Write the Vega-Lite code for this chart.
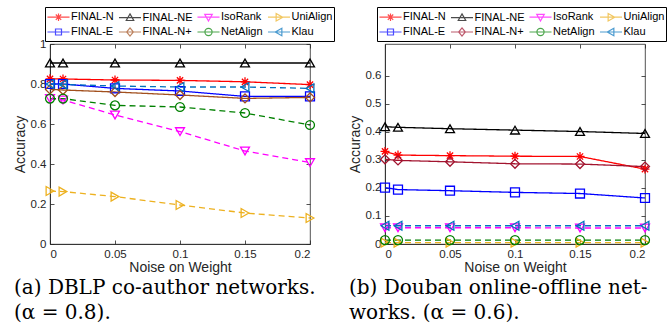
{
  "$schema": "https://vega.github.io/schema/vega-lite/v6.json",
  "background": "white",
  "padding": {"left": 12, "top": 6, "right": 3, "bottom": 5},
  "config": {
    "view": {"stroke": "#262626", "strokeWidth": 0.8},
    "axis": {
      "domainColor": "#262626", "domainWidth": 0.8, "tickColor": "#262626", "tickWidth": 0.8, "tickSize": -4,
      "labelFont": "Liberation Sans", "labelFontSize": 11.5, "labelColor": "#262626",
      "titleFont": "Liberation Sans", "titleFontSize": 14, "titleFontWeight": "normal", "titleColor": "#262626", "grid": false
    },
    "legend": {
      "orient": "none", "columns": 4, "labelFont": "Liberation Sans", "labelFontSize": 11, "labelColor": "black",
      "labelOffset": 4, "columnPadding": 1.5, "rowPadding": 0, "padding": 1.5, "symbolOffset": 3.5,
      "fillColor": "white", "strokeColor": "black", "symbolSize": 225, "symbolStrokeWidth": 1.2
    },
    "title": {"font": "DejaVu Serif", "fontSize": 20, "fontWeight": "normal", "color": "black"}
  },
  "datasets": {
    "a": [
      {"x": 0, "y": 0.826, "m": "FINAL-N"}, {"x": 0.01, "y": 0.825, "m": "FINAL-N"}, {"x": 0.05, "y": 0.82, "m": "FINAL-N"}, {"x": 0.1, "y": 0.818, "m": "FINAL-N"}, {"x": 0.15, "y": 0.811, "m": "FINAL-N"}, {"x": 0.2, "y": 0.797, "m": "FINAL-N"},
      {"x": 0, "y": 0.905, "m": "FINAL-NE"}, {"x": 0.01, "y": 0.905, "m": "FINAL-NE"}, {"x": 0.05, "y": 0.905, "m": "FINAL-NE"}, {"x": 0.1, "y": 0.905, "m": "FINAL-NE"}, {"x": 0.15, "y": 0.905, "m": "FINAL-NE"}, {"x": 0.2, "y": 0.905, "m": "FINAL-NE"},
      {"x": 0, "y": 0.727, "m": "IsoRank"}, {"x": 0.01, "y": 0.72, "m": "IsoRank"}, {"x": 0.05, "y": 0.645, "m": "IsoRank"}, {"x": 0.1, "y": 0.562, "m": "IsoRank"}, {"x": 0.15, "y": 0.465, "m": "IsoRank"}, {"x": 0.2, "y": 0.407, "m": "IsoRank"},
      {"x": 0, "y": 0.265, "m": "UniAlign"}, {"x": 0.01, "y": 0.262, "m": "UniAlign"}, {"x": 0.05, "y": 0.237, "m": "UniAlign"}, {"x": 0.1, "y": 0.195, "m": "UniAlign"}, {"x": 0.15, "y": 0.155, "m": "UniAlign"}, {"x": 0.2, "y": 0.13, "m": "UniAlign"},
      {"x": 0, "y": 0.8, "m": "FINAL-E"}, {"x": 0.01, "y": 0.8, "m": "FINAL-E"}, {"x": 0.05, "y": 0.778, "m": "FINAL-E"}, {"x": 0.1, "y": 0.765, "m": "FINAL-E"}, {"x": 0.15, "y": 0.738, "m": "FINAL-E"}, {"x": 0.2, "y": 0.738, "m": "FINAL-E"},
      {"x": 0, "y": 0.773, "m": "FINAL-N+"}, {"x": 0.01, "y": 0.77, "m": "FINAL-N+"}, {"x": 0.05, "y": 0.76, "m": "FINAL-N+"}, {"x": 0.1, "y": 0.745, "m": "FINAL-N+"}, {"x": 0.15, "y": 0.728, "m": "FINAL-N+"}, {"x": 0.2, "y": 0.733, "m": "FINAL-N+"},
      {"x": 0, "y": 0.727, "m": "NetAlign"}, {"x": 0.01, "y": 0.727, "m": "NetAlign"}, {"x": 0.05, "y": 0.693, "m": "NetAlign"}, {"x": 0.1, "y": 0.685, "m": "NetAlign"}, {"x": 0.15, "y": 0.655, "m": "NetAlign"}, {"x": 0.2, "y": 0.595, "m": "NetAlign"},
      {"x": 0, "y": 0.8, "m": "Klau"}, {"x": 0.01, "y": 0.798, "m": "Klau"}, {"x": 0.05, "y": 0.79, "m": "Klau"}, {"x": 0.1, "y": 0.785, "m": "Klau"}, {"x": 0.15, "y": 0.785, "m": "Klau"}, {"x": 0.2, "y": 0.778, "m": "Klau"}
    ],
    "b": [
      {"x": 0, "y": 0.33, "m": "FINAL-N"}, {"x": 0.01, "y": 0.317, "m": "FINAL-N"}, {"x": 0.05, "y": 0.315, "m": "FINAL-N"}, {"x": 0.1, "y": 0.313, "m": "FINAL-N"}, {"x": 0.15, "y": 0.312, "m": "FINAL-N"}, {"x": 0.2, "y": 0.267, "m": "FINAL-N"},
      {"x": 0, "y": 0.418, "m": "FINAL-NE"}, {"x": 0.01, "y": 0.416, "m": "FINAL-NE"}, {"x": 0.05, "y": 0.411, "m": "FINAL-NE"}, {"x": 0.1, "y": 0.406, "m": "FINAL-NE"}, {"x": 0.15, "y": 0.401, "m": "FINAL-NE"}, {"x": 0.2, "y": 0.394, "m": "FINAL-NE"},
      {"x": 0, "y": 0.058, "m": "IsoRank"}, {"x": 0.01, "y": 0.058, "m": "IsoRank"}, {"x": 0.05, "y": 0.058, "m": "IsoRank"}, {"x": 0.1, "y": 0.058, "m": "IsoRank"}, {"x": 0.15, "y": 0.057, "m": "IsoRank"}, {"x": 0.2, "y": 0.057, "m": "IsoRank"},
      {"x": 0, "y": 0.005, "m": "UniAlign"}, {"x": 0.01, "y": 0.005, "m": "UniAlign"}, {"x": 0.05, "y": 0.005, "m": "UniAlign"}, {"x": 0.1, "y": 0.005, "m": "UniAlign"}, {"x": 0.15, "y": 0.005, "m": "UniAlign"}, {"x": 0.2, "y": 0.005, "m": "UniAlign"},
      {"x": 0, "y": 0.201, "m": "FINAL-E"}, {"x": 0.01, "y": 0.194, "m": "FINAL-E"}, {"x": 0.05, "y": 0.19, "m": "FINAL-E"}, {"x": 0.1, "y": 0.184, "m": "FINAL-E"}, {"x": 0.15, "y": 0.18, "m": "FINAL-E"}, {"x": 0.2, "y": 0.164, "m": "FINAL-E"},
      {"x": 0, "y": 0.302, "m": "FINAL-N+"}, {"x": 0.01, "y": 0.298, "m": "FINAL-N+"}, {"x": 0.05, "y": 0.293, "m": "FINAL-N+"}, {"x": 0.1, "y": 0.286, "m": "FINAL-N+"}, {"x": 0.15, "y": 0.285, "m": "FINAL-N+"}, {"x": 0.2, "y": 0.276, "m": "FINAL-N+"},
      {"x": 0, "y": 0.014, "m": "NetAlign"}, {"x": 0.01, "y": 0.014, "m": "NetAlign"}, {"x": 0.05, "y": 0.014, "m": "NetAlign"}, {"x": 0.1, "y": 0.014, "m": "NetAlign"}, {"x": 0.15, "y": 0.014, "m": "NetAlign"}, {"x": 0.2, "y": 0.014, "m": "NetAlign"},
      {"x": 0, "y": 0.065, "m": "Klau"}, {"x": 0.01, "y": 0.065, "m": "Klau"}, {"x": 0.05, "y": 0.065, "m": "Klau"}, {"x": 0.1, "y": 0.065, "m": "Klau"}, {"x": 0.15, "y": 0.065, "m": "Klau"}, {"x": 0.2, "y": 0.065, "m": "Klau"}
    ]
  },
  "bounds": "flush",
  "spacing": 75,
  "hconcat": [
    {
      "width": 260, "height": 200,
      "data": {"name": "a"},
      "title": {"text": ["(a) DBLP co-author networks.", "(α = 0.8)."], "orient": "bottom", "anchor": "start", "frame": "group", "dx": -36, "offset": 3, "lineHeight": 25, "baseline": "top"},
      "layer": [
        {
          "mark": {"type": "line", "strokeWidth": 1.3},
          "encoding": {
            "x": {"field": "x", "type": "quantitative", "scale": {"domain": [0, 0.2], "nice": false}, "axis": {"values": [0, 0.05, 0.1, 0.15, 0.2], "format": "~g", "title": "Noise on Weight", "labelPadding": 8, "titlePadding": 1}},
            "y": {"field": "y", "type": "quantitative", "scale": {"domain": [0, 1], "nice": false}, "axis": {"values": [0, 0.2, 0.4, 0.6, 0.8, 1], "format": "~g", "title": "Accuracy", "labelPadding": 8, "titlePadding": 3}},
            "color": {"field": "m", "type": "nominal", "legend": null, "scale": {"domain": ["FINAL-N", "FINAL-E", "FINAL-NE", "FINAL-N+", "IsoRank", "NetAlign", "UniAlign", "Klau"], "range": ["#FF0000", "#0000FF", "#000000", "#A2501E", "#FF00FF", "#008000", "#EDB120", "#0072BD"]}},
            "strokeDash": {"field": "m", "type": "nominal", "legend": null, "scale": {"domain": ["FINAL-N", "FINAL-E", "FINAL-NE", "FINAL-N+", "IsoRank", "NetAlign", "UniAlign", "Klau"], "range": [[1, 0], [1, 0], [1, 0], [1, 0], [6, 4], [6, 4], [6, 4], [6, 4]]}}
          }
        },
        {
          "mark": {"type": "point", "filled": false, "size": 80, "strokeWidth": 1.3, "opacity": 1},
          "encoding": {
            "x": {"field": "x", "type": "quantitative", "axis": {"orient": "top", "values": [0, 0.05, 0.1, 0.15, 0.2], "labels": false, "title": null, "domain": false}},
            "y": {"field": "y", "type": "quantitative", "axis": {"orient": "right", "values": [0, 0.2, 0.4, 0.6, 0.8, 1], "labels": false, "title": null, "domain": false}},
            "color": {"field": "m", "type": "nominal", "legend": null, "scale": {"domain": ["FINAL-N", "FINAL-E", "FINAL-NE", "FINAL-N+", "IsoRank", "NetAlign", "UniAlign", "Klau"], "range": ["#FF0000", "#0000FF", "#000000", "#A2501E", "#FF00FF", "#008000", "#EDB120", "#0072BD"]}},
            "shape": {"field": "m", "type": "nominal", "legend": null, "scale": {"domain": ["FINAL-N", "FINAL-E", "FINAL-NE", "FINAL-N+", "IsoRank", "NetAlign", "UniAlign", "Klau"], "range": ["M-1,0H1M0,-1V1M-0.7,-0.7L0.7,0.7M-0.7,0.7L0.7,-0.7", "square", "triangle-up", "diamond", "triangle-down", "circle", "triangle-right", "triangle-left"]}}
          }
        },
        {
          "transform": [{"filter": "false"}],
          "mark": {"type": "point", "filled": false, "strokeWidth": 1.2},
          "encoding": {
            "x": {"field": "x", "type": "quantitative", "axis": null},
            "y": {"field": "y", "type": "quantitative", "axis": null},
            "color": {"field": "m", "type": "nominal", "legend": {"title": null, "legendX": -5, "legendY": -37}, "scale": {"domain": ["FINAL-N", "FINAL-E", "FINAL-NE", "FINAL-N+", "IsoRank", "NetAlign", "UniAlign", "Klau"], "range": ["#FF0000", "#0000FF", "#000000", "#A2501E", "#FF00FF", "#008000", "#EDB120", "#0072BD"]}},
            "shape": {"field": "m", "type": "nominal", "legend": {"title": null, "legendX": -5, "legendY": -37}, "scale": {"domain": ["FINAL-N", "FINAL-E", "FINAL-NE", "FINAL-N+", "IsoRank", "NetAlign", "UniAlign", "Klau"], "range": [
              "M-1.47,0H1.47M0,-0.5V0.5M-0.5,0H0.5M-0.36,-0.36L0.36,0.36M-0.36,0.36L0.36,-0.36",
              "M-1.47,0H1.47M-0.4,-0.4H0.4V0.4H-0.4Z",
              "M-1.47,0H1.47M0,-0.5L0.5,0.38L-0.5,0.38Z",
              "M-1.47,0H1.47M0,-0.55L0.45,0L0,0.55L-0.45,0Z",
              "M-1.47,0H1.47M0,0.5L0.5,-0.38L-0.5,-0.38Z",
              "M-1.47,0H1.47M0.48,0A0.48,0.48 0 1,1 -0.48,0A0.48,0.48 0 1,1 0.48,0",
              "M-1.47,0H1.47M0.5,0L-0.38,-0.5L-0.38,0.5Z",
              "M-1.47,0H1.47M-0.5,0L0.38,-0.5L0.38,0.5Z"
            ]}}
          }
        }
      ],
      "resolve": {"scale": {"shape": "independent", "color": "independent"}, "axis": {"x": "independent", "y": "independent"}}
    },
    {
      "width": 260, "height": 200,
      "data": {"name": "b"},
      "title": {"text": ["(b) Douban online-offline net-", "works. (α = 0.6)."], "orient": "bottom", "anchor": "start", "frame": "group", "dx": -36, "offset": 3, "lineHeight": 25, "baseline": "top"},
      "layer": [
        {
          "mark": {"type": "line", "strokeWidth": 1.3},
          "encoding": {
            "x": {"field": "x", "type": "quantitative", "scale": {"domain": [0, 0.2], "nice": false}, "axis": {"values": [0, 0.05, 0.1, 0.15, 0.2], "format": "~g", "title": "Noise on Weight", "labelPadding": 8, "titlePadding": 1}},
            "y": {"field": "y", "type": "quantitative", "scale": {"domain": [0, 0.713], "nice": false}, "axis": {"values": [0, 0.1, 0.2, 0.3, 0.4, 0.5, 0.6], "format": "~g", "title": "Accuracy", "labelPadding": 8, "titlePadding": 3}},
            "color": {"field": "m", "type": "nominal", "legend": null, "scale": {"domain": ["FINAL-N", "FINAL-E", "FINAL-NE", "FINAL-N+", "IsoRank", "NetAlign", "UniAlign", "Klau"], "range": ["#FF0000", "#0000FF", "#000000", "#A2142F", "#FF00FF", "#008000", "#EDB120", "#0072BD"]}},
            "strokeDash": {"field": "m", "type": "nominal", "legend": null, "scale": {"domain": ["FINAL-N", "FINAL-E", "FINAL-NE", "FINAL-N+", "IsoRank", "NetAlign", "UniAlign", "Klau"], "range": [[1, 0], [1, 0], [1, 0], [1, 0], [6, 4], [6, 4], [6, 4], [6, 4]]}}
          }
        },
        {
          "mark": {"type": "point", "filled": false, "size": 80, "strokeWidth": 1.3, "opacity": 1},
          "encoding": {
            "x": {"field": "x", "type": "quantitative", "axis": {"orient": "top", "values": [0, 0.05, 0.1, 0.15, 0.2], "labels": false, "title": null, "domain": false}},
            "y": {"field": "y", "type": "quantitative", "axis": {"orient": "right", "values": [0, 0.1, 0.2, 0.3, 0.4, 0.5, 0.6], "labels": false, "title": null, "domain": false}},
            "color": {"field": "m", "type": "nominal", "legend": null, "scale": {"domain": ["FINAL-N", "FINAL-E", "FINAL-NE", "FINAL-N+", "IsoRank", "NetAlign", "UniAlign", "Klau"], "range": ["#FF0000", "#0000FF", "#000000", "#A2142F", "#FF00FF", "#008000", "#EDB120", "#0072BD"]}},
            "shape": {"field": "m", "type": "nominal", "legend": null, "scale": {"domain": ["FINAL-N", "FINAL-E", "FINAL-NE", "FINAL-N+", "IsoRank", "NetAlign", "UniAlign", "Klau"], "range": ["M-1,0H1M0,-1V1M-0.7,-0.7L0.7,0.7M-0.7,0.7L0.7,-0.7", "square", "triangle-up", "diamond", "triangle-down", "circle", "triangle-right", "triangle-left"]}}
          }
        },
        {
          "transform": [{"filter": "false"}],
          "mark": {"type": "point", "filled": false, "strokeWidth": 1.2},
          "encoding": {
            "x": {"field": "x", "type": "quantitative", "axis": null},
            "y": {"field": "y", "type": "quantitative", "axis": null},
            "color": {"field": "m", "type": "nominal", "legend": {"title": null, "legendX": -8, "legendY": -37}, "scale": {"domain": ["FINAL-N", "FINAL-E", "FINAL-NE", "FINAL-N+", "IsoRank", "NetAlign", "UniAlign", "Klau"], "range": ["#FF0000", "#0000FF", "#000000", "#A2142F", "#FF00FF", "#008000", "#EDB120", "#0072BD"]}},
            "shape": {"field": "m", "type": "nominal", "legend": {"title": null, "legendX": -8, "legendY": -37}, "scale": {"domain": ["FINAL-N", "FINAL-E", "FINAL-NE", "FINAL-N+", "IsoRank", "NetAlign", "UniAlign", "Klau"], "range": [
              "M-1.47,0H1.47M0,-0.5V0.5M-0.5,0H0.5M-0.36,-0.36L0.36,0.36M-0.36,0.36L0.36,-0.36",
              "M-1.47,0H1.47M-0.4,-0.4H0.4V0.4H-0.4Z",
              "M-1.47,0H1.47M0,-0.5L0.5,0.38L-0.5,0.38Z",
              "M-1.47,0H1.47M0,-0.55L0.45,0L0,0.55L-0.45,0Z",
              "M-1.47,0H1.47M0,0.5L0.5,-0.38L-0.5,-0.38Z",
              "M-1.47,0H1.47M0.48,0A0.48,0.48 0 1,1 -0.48,0A0.48,0.48 0 1,1 0.48,0",
              "M-1.47,0H1.47M0.5,0L-0.38,-0.5L-0.38,0.5Z",
              "M-1.47,0H1.47M-0.5,0L0.38,-0.5L0.38,0.5Z"
            ]}}
          }
        }
      ],
      "resolve": {"scale": {"shape": "independent", "color": "independent"}, "axis": {"x": "independent", "y": "independent"}}
    }
  ]
}
